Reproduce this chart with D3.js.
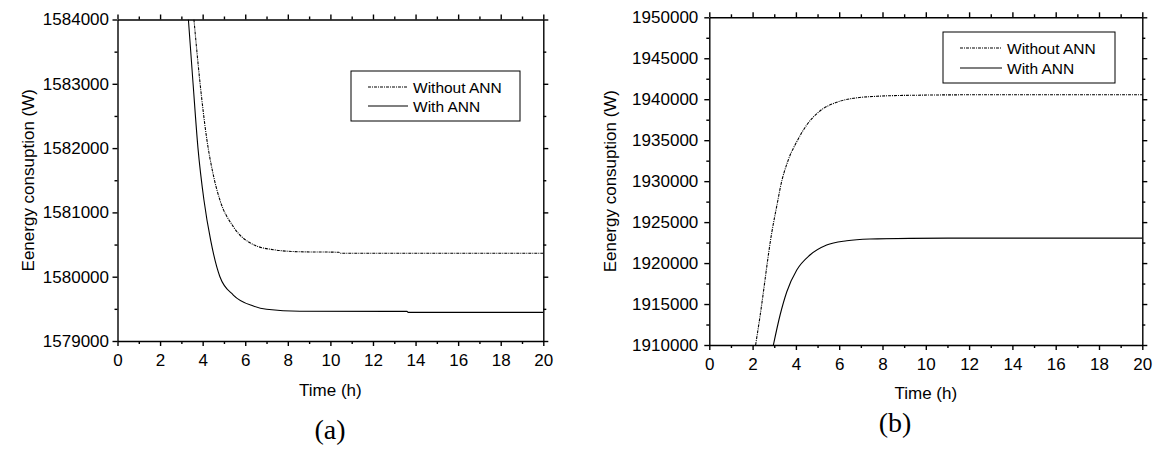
<!DOCTYPE html>
<html>
<head>
<meta charset="utf-8">
<script src="https://cdn.jsdelivr.net/npm/d3@7"></script>
<style>
  html, body { margin: 0; padding: 0; background: #fff; }
  svg { display: block; }
  .axis text { font-family: "Liberation Sans", Arial, sans-serif; font-size: 17px; fill: #000; }
  .axis path, .axis line { stroke: #000; stroke-width: 1.4; }
</style>
</head>
<body>
<svg id="chart" width="1159" height="450"></svg>
<script>
// ---------------- Data ----------------
const xTicks = [0, 2, 4, 6, 8, 10, 12, 14, 16, 18, 20];
const yTicksA = [1579000, 1580000, 1581000, 1582000, 1583000, 1584000];
const yTicksB = [1910000, 1915000, 1920000, 1925000, 1930000, 1935000, 1940000, 1945000, 1950000];
const seriesNames = ["Without ANN", "With ANN"];

// Panel (a): time (h), energy (W)
const timeA_without = [3.59, 3.87, 4.19, 4.50, 4.81, 5.44, 6.38, 7.32, 8.57, 10.40, 10.45, 20];
const energyA_without = [1584000, 1583033, 1582150, 1581582, 1581193, 1580778, 1580500, 1580420, 1580388, 1580380, 1580365, 1580365];
const timeA_with = [3.33, 3.55, 3.78, 4.06, 4.38, 4.81, 5.44, 6.38, 7.00, 8.57, 13.60, 13.65, 20];
const energyA_with = [1584000, 1583000, 1582000, 1581193, 1580560, 1580000, 1579715, 1579544, 1579493, 1579462, 1579460, 1579445, 1579445];

// Panel (b)
const timeB_without = [2.14, 2.34, 2.88, 3.17, 3.27, 3.65, 4.04, 4.50, 5.11, 5.88, 6.65, 7.73, 9.27, 12, 20];
const energyB_without = [1910000, 1913455, 1923634, 1927700, 1929100, 1932600, 1934815, 1936854, 1938563, 1939625, 1940113, 1940357, 1940479, 1940540, 1940550];
const timeB_with = [2.96, 3.27, 3.58, 4.04, 4.65, 5.42, 6.35, 7.42, 9.27, 12, 20];
const energyB_with = [1910000, 1913662, 1916506, 1919155, 1920985, 1922206, 1922731, 1922939, 1923020, 1923050, 1923050];

// ---------------- Drawing ----------------
const svg = d3.select("#chart");

function zip(t, v) { return t.map((d, i) => [d, v[i]]); }

function drawPanel(cfg) {
  const x = d3.scaleLinear().domain([0, 20]).range([cfg.x0, cfg.x1]);
  const y = d3.scaleLinear().domain(cfg.yDomain).range([cfg.y1, cfg.y0]);
  const g = svg.append("g");

  const minorX = d3.range(1, 20, 2);
  const minorY = cfg.minorY;

  // bottom axis
  g.append("g").attr("class", "axis").attr("transform", `translate(0,${cfg.y1})`)
    .call(d3.axisBottom(x).tickValues(xTicks).tickFormat(d3.format("d")).tickSize(5).tickSizeOuter(0).tickPadding(8));
  g.append("g").attr("class", "axis").attr("transform", `translate(0,${cfg.y1})`)
    .call(d3.axisBottom(x).tickValues(minorX).tickFormat("").tickSize(3).tickSizeOuter(0))
    .select(".domain").remove();
  // top axis
  g.append("g").attr("class", "axis").attr("transform", `translate(0,${cfg.y0})`)
    .call(d3.axisTop(x).tickValues(xTicks).tickFormat("").tickSize(5).tickSizeOuter(0));
  g.append("g").attr("class", "axis").attr("transform", `translate(0,${cfg.y0})`)
    .call(d3.axisTop(x).tickValues(minorX).tickFormat("").tickSize(3).tickSizeOuter(0))
    .select(".domain").remove();
  // left axis
  g.append("g").attr("class", "axis").attr("transform", `translate(${cfg.x0},0)`)
    .call(d3.axisLeft(y).tickValues(cfg.yTicks).tickFormat(d3.format("d")).tickSize(5).tickSizeOuter(0).tickPadding(cfg.yPad));
  g.append("g").attr("class", "axis").attr("transform", `translate(${cfg.x0},0)`)
    .call(d3.axisLeft(y).tickValues(minorY).tickFormat("").tickSize(3).tickSizeOuter(0))
    .select(".domain").remove();
  // right axis
  g.append("g").attr("class", "axis").attr("transform", `translate(${cfg.x1},0)`)
    .call(d3.axisRight(y).tickValues(cfg.yTicks).tickFormat("").tickSize(5).tickSizeOuter(0));
  g.append("g").attr("class", "axis").attr("transform", `translate(${cfg.x1},0)`)
    .call(d3.axisRight(y).tickValues(minorY).tickFormat("").tickSize(3).tickSizeOuter(0))
    .select(".domain").remove();

  // clip
  const clipId = "clip" + cfg.id;
  g.append("clipPath").attr("id", clipId).append("rect")
    .attr("x", cfg.x0).attr("y", cfg.y0).attr("width", cfg.x1 - cfg.x0).attr("height", cfg.y1 - cfg.y0);

  const line = d3.line().x(d => x(d[0])).y(d => y(d[1])).curve(d3.curveMonotoneX);
  const lg = g.append("g").attr("clip-path", `url(#${clipId})`);
  lg.append("path").datum(cfg.without).attr("d", line)
    .attr("fill", "none").attr("stroke", "#000").attr("stroke-width", 1.1)
    .attr("stroke-dasharray", "3,1,1,1");
  lg.append("path").datum(cfg.with).attr("d", line)
    .attr("fill", "none").attr("stroke", "#000").attr("stroke-width", 1.1);

  // axis titles
  g.append("text").attr("x", (cfg.x0 + cfg.x1) / 2).attr("y", cfg.xTitleY)
    .attr("text-anchor", "middle")
    .style("font-family", "'Liberation Sans', Arial, sans-serif").style("font-size", "17px")
    .text("Time (h)");
  g.append("text")
    .attr("transform", `translate(${cfg.yTitleX},${(cfg.y0 + cfg.y1) / 2}) rotate(-90)`)
    .attr("text-anchor", "middle")
    .style("font-family", "'Liberation Sans', Arial, sans-serif").style("font-size", "17px")
    .text("Eenergy consuption (W)");
  // panel label
  g.append("text").attr("x", cfg.labelX).attr("y", cfg.labelY).attr("text-anchor", "middle")
    .style("font-family", "'Liberation Serif', 'Times New Roman', serif").style("font-size", "28px")
    .text(cfg.label);

  // legend
  const L = cfg.legend;
  g.append("rect").attr("x", L.x).attr("y", L.y).attr("width", L.w).attr("height", L.h)
    .attr("fill", "#fff").attr("stroke", "#000").attr("stroke-width", 1);
  const rows = [{ dash: "3,1,1,1" }, { dash: null }];
  rows.forEach((r, i) => {
    const yy = L.y + L.r0 + i * L.dr;
    const ln = g.append("line").attr("x1", L.x + L.lx0).attr("x2", L.x + L.lx1)
      .attr("y1", yy).attr("y2", yy).attr("stroke", "#000").attr("stroke-width", 1.1);
    if (r.dash) ln.attr("stroke-dasharray", r.dash);
    g.append("text").attr("x", L.x + L.tx).attr("y", yy).attr("dy", "0.36em")
      .style("font-family", "'Liberation Sans', Arial, sans-serif").style("font-size", "15.5px")
      .text(seriesNames[i]);
  });
}

drawPanel({
  id: "a", x0: 117.5, x1: 543.3, y0: 19.5, y1: 341,
  yDomain: [1579000, 1584000], yTicks: yTicksA,
  minorY: d3.range(1579500, 1584000, 1000), yPad: 3.5,
  without: zip(timeA_without, energyA_without), with: zip(timeA_with, energyA_with),
  xTitleY: 396, yTitleX: 34, label: "(a)", labelX: 330, labelY: 439,
  legend: { x: 351, y: 71, w: 169, h: 50, r0: 16, dr: 19, lx0: 17, lx1: 57, tx: 62 }
});

drawPanel({
  id: "b", x0: 709.3, x1: 1142.3, y0: 17.3, y1: 345,
  yDomain: [1910000, 1950000], yTicks: yTicksB,
  minorY: d3.range(1912500, 1950000, 5000), yPad: 6,
  without: zip(timeB_without, energyB_without), with: zip(timeB_with, energyB_with),
  xTitleY: 399, yTitleX: 616, label: "(b)", labelX: 895, labelY: 432,
  legend: { x: 943, y: 32, w: 172, h: 51, r0: 16, dr: 20, lx0: 17, lx1: 59, tx: 64 }
});
</script>
</body>
</html>
